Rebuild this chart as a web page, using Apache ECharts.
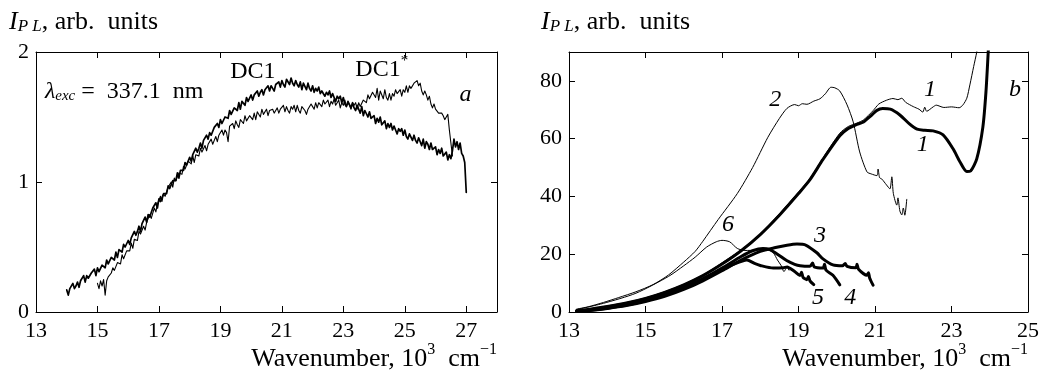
<!DOCTYPE html>
<html><head><meta charset="utf-8">
<script src="https://cdn.jsdelivr.net/npm/echarts@6/dist/echarts.min.js"></script>
<style>html,body{margin:0;padding:0;background:#fff}#c{width:1044px;height:374px}</style>
</head><body><div id="c"></div>
<script>
// ---------- Panel a data: [wavenumber (10^3 cm^-1), I_PL] ----------
const dc1 = [
[14.00,.17],[14.05,.13],[14.10,.18],[14.15,.17],[14.20,.22],[14.25,.18],[14.30,.20],[14.35,.23],[14.40,.19],[14.45,.24],
[14.50,.23],[14.55,.28],[14.60,.23],[14.65,.28],[14.70,.26],[14.75,.25],[14.80,.30],[14.85,.29],[14.90,.33],[14.95,.28],
[15.00,.34],[15.05,.31],[15.10,.30],[15.15,.36],[15.20,.36],[15.25,.34],[15.30,.40],[15.35,.37],[15.40,.37],[15.45,.42],
[15.50,.41],[15.55,.40],[15.60,.46],[15.65,.42],[15.70,.48],[15.75,.48],[15.80,.46],[15.85,.52],[15.90,.50],[15.95,.50],
[16.00,.55],[16.05,.52],[16.10,.57],[16.15,.57],[16.20,.62],[16.25,.59],[16.30,.62],[16.35,.66],[16.40,.62],[16.45,.68],
[16.50,.67],[16.55,.73],[16.60,.69],[16.65,.75],[16.70,.73],[16.75,.73],[16.80,.80],[16.85,.79],[16.90,.84],[16.95,.80],
[17.00,.87],[17.05,.85],[17.10,.84],[17.15,.91],[17.20,.92],[17.25,.91],[17.30,.97],[17.35,.95],[17.40,.96],[17.45,1.01],
[17.50,1.01],[17.55,1.01],[17.60,1.07],[17.65,1.03],[17.70,1.09],[17.75,1.10],[17.80,1.09],[17.85,1.15],[17.90,1.13],[17.95,1.13],
[18.00,1.19],[18.05,1.16],[18.10,1.21],[18.15,1.21],[18.20,1.26],[18.25,1.23],[18.30,1.26],[18.35,1.30],[18.40,1.26],[18.45,1.32],
[18.50,1.31],[18.55,1.36],[18.60,1.33],[18.65,1.38],[18.70,1.36],[18.75,1.36],[18.80,1.42],[18.85,1.41],[18.90,1.45],[18.95,1.42],
[19.00,1.48],[19.05,1.45],[19.10,1.44],[19.15,1.50],[19.20,1.50],[19.25,1.49],[19.30,1.55],[19.35,1.52],[19.40,1.52],[19.45,1.57],
[19.50,1.56],[19.55,1.55],[19.60,1.61],[19.65,1.56],[19.70,1.62],[19.75,1.62],[19.80,1.59],[19.85,1.65],[19.90,1.62],[19.95,1.62],
[20.00,1.67],[20.05,1.63],[20.10,1.67],[20.15,1.66],[20.20,1.70],[20.25,1.66],[20.30,1.69],[20.35,1.71],[20.40,1.67],[20.45,1.71],
[20.50,1.70],[20.55,1.74],[20.60,1.70],[20.65,1.74],[20.70,1.72],[20.75,1.70],[20.80,1.75],[20.85,1.74],[20.90,1.77],[20.95,1.73],
[21.00,1.78],[21.05,1.75],[21.10,1.73],[21.15,1.79],[21.20,1.78],[21.25,1.75],[21.30,1.80],[21.35,1.76],[21.40,1.74],[21.45,1.78],
[21.50,1.75],[21.55,1.73],[21.60,1.77],[21.65,1.71],[21.70,1.76],[21.75,1.75],[21.80,1.71],[21.85,1.76],[21.90,1.72],[21.95,1.70],
[22.00,1.74],[22.05,1.69],[22.10,1.72],[22.15,1.70],[22.20,1.73],[22.25,1.68],[22.30,1.70],[22.35,1.71],[22.40,1.66],[22.45,1.69],
[22.50,1.67],[22.55,1.70],[22.60,1.65],[22.65,1.68],[22.70,1.65],[22.75,1.62],[22.80,1.66],[22.85,1.64],[22.90,1.66],[22.95,1.61],
[23.00,1.65],[23.05,1.60],[23.10,1.58],[23.15,1.62],[23.20,1.61],[23.25,1.57],[23.30,1.61],[23.35,1.57],[23.40,1.55],[23.45,1.59],
[23.50,1.56],[23.55,1.53],[23.60,1.58],[23.65,1.51],[23.70,1.55],[23.75,1.54],[23.80,1.50],[23.85,1.54],[23.90,1.49],[23.95,1.48],
[24.00,1.51],[24.05,1.45],[24.10,1.49],[24.15,1.46],[24.20,1.50],[24.25,1.44],[24.30,1.45],[24.35,1.47],[24.40,1.41],[24.45,1.45],
[24.50,1.42],[24.55,1.45],[24.60,1.40],[24.65,1.43],[24.70,1.40],[24.75,1.37],[24.80,1.41],[24.85,1.39],[24.90,1.41],[24.95,1.36],
[25.00,1.40],[25.05,1.35],[25.10,1.33],[25.15,1.37],[25.20,1.36],[25.25,1.32],[25.30,1.36],[25.35,1.32],[25.40,1.30],[25.45,1.34],
[25.50,1.31],[25.55,1.28],[25.60,1.33],[25.65,1.26],[25.70,1.31],[25.75,1.29],[25.80,1.25],[25.85,1.30],[25.90,1.25],[25.95,1.24],
[26.00,1.27],[26.05,1.21],[26.10,1.25],[26.15,1.22],[26.20,1.26],[26.25,1.20],[26.30,1.21],[26.35,1.23],[26.40,1.17],[26.45,1.21],
[26.50,1.18],[26.55,1.24],[26.60,1.33],[26.65,1.27],[26.70,1.31],[26.75,1.25],[26.80,1.30],[26.85,1.22],[26.90,1.20],[26.95,1.15],[27.00,0.92]];
const dc1star = [
[15.00,.22],[15.05,.18],[15.10,.24],[15.15,.20],[15.20,.25],[15.25,.13],[15.30,.24],[15.35,.27],[15.40,.26],[15.45,.30],
[15.50,.34],[15.55,.32],[15.60,.31],[15.65,.38],[15.70,.38],[15.75,.37],[15.80,.44],[15.85,.41],[15.90,.42],[15.95,.47],
[16.00,.47],[16.05,.47],[16.10,.53],[16.15,.49],[16.20,.56],[16.25,.57],[16.30,.55],[16.35,.62],[16.40,.60],[16.45,.60],
[16.50,.66],[16.55,.63],[16.60,.69],[16.65,.69],[16.70,.75],[16.75,.72],[16.80,.76],[16.85,.80],[16.90,.77],[16.95,.83],
[17.00,.83],[17.05,.89],[17.10,.85],[17.15,.91],[17.20,.89],[17.25,.89],[17.30,.96],[17.35,.95],[17.40,1.00],[17.45,.96],
[17.50,1.03],[17.55,1.01],[17.60,1.00],[17.65,1.07],[17.70,1.07],[17.75,1.06],[17.80,1.12],[17.85,1.10],[17.90,1.10],[17.95,1.16],
[18.00,1.15],[18.05,1.14],[18.10,1.20],[18.15,1.15],[18.20,1.21],[18.25,1.22],[18.30,1.20],[18.35,1.26],[18.40,1.23],[18.45,1.23],
[18.50,1.28],[18.55,1.24],[18.60,1.29],[18.65,1.28],[18.70,1.33],[18.75,1.29],[18.80,1.32],[18.85,1.35],[18.90,1.31],[18.95,1.36],
[19.00,1.35],[19.05,1.40],[19.10,1.36],[19.15,1.40],[19.20,1.38],[19.25,1.31],[19.30,1.43],[19.35,1.42],[19.40,1.45],[19.45,1.41],
[19.50,1.47],[19.55,1.44],[19.60,1.42],[19.65,1.48],[19.70,1.47],[19.75,1.45],[19.80,1.51],[19.85,1.47],[19.90,1.47],[19.95,1.51],
[20.00,1.50],[20.05,1.48],[20.10,1.53],[20.15,1.48],[20.20,1.54],[20.25,1.53],[20.30,1.50],[20.35,1.56],[20.40,1.52],[20.45,1.51],
[20.50,1.56],[20.55,1.51],[20.60,1.55],[20.65,1.54],[20.70,1.56],[20.75,1.53],[20.80,1.55],[20.85,1.57],[20.90,1.53],[20.95,1.56],
[21.00,1.55],[21.05,1.59],[21.10,1.54],[21.15,1.58],[21.20,1.55],[21.25,1.53],[21.30,1.58],[21.35,1.56],[21.40,1.59],[21.45,1.54],
[21.50,1.59],[21.55,1.55],[21.60,1.53],[21.65,1.58],[21.70,1.57],[21.75,1.55],[21.80,1.52],[21.85,1.56],[21.90,1.55],[21.95,1.60],
[22.00,1.58],[22.05,1.56],[22.10,1.61],[22.15,1.57],[22.20,1.61],[22.25,1.61],[22.30,1.58],[22.35,1.63],[22.40,1.60],[22.45,1.59],
[22.50,1.63],[22.55,1.58],[22.60,1.62],[22.65,1.60],[22.70,1.64],[22.75,1.59],[22.80,1.61],[22.85,1.63],[22.90,1.57],[22.95,1.61],
[23.00,1.59],[23.05,1.63],[23.10,1.58],[23.15,1.61],[23.20,1.59],[23.25,1.56],[23.30,1.61],[23.35,1.59],[23.40,1.61],[23.45,1.56],
[23.50,1.61],[23.55,1.58],[23.60,1.57],[23.65,1.63],[23.70,1.63],[23.75,1.61],[23.80,1.67],[23.85,1.64],[23.90,1.64],[23.95,1.69],
[24.00,1.68],[24.05,1.65],[24.10,1.72],[24.15,1.63],[24.20,1.70],[24.25,1.69],[24.30,1.64],[24.35,1.71],[24.40,1.65],[24.45,1.63],
[24.50,1.68],[24.55,1.63],[24.60,1.68],[24.65,1.66],[24.70,1.71],[24.75,1.68],[24.80,1.68],[24.85,1.71],[24.90,1.66],[24.95,1.71],
[25.00,1.69],[25.05,1.74],[25.10,1.69],[25.15,1.74],[25.20,1.72],[25.25,1.71],[25.30,1.76],[25.35,1.75],[25.40,1.78],[25.45,1.74],
[25.50,1.76],[25.55,1.70],[25.60,1.67],[25.65,1.70],[25.70,1.67],[25.75,1.63],[25.80,1.66],[25.85,1.60],[25.90,1.57],[25.95,1.60],
[26.00,1.56],[26.05,1.55],[26.10,1.53],[26.15,1.52],[26.20,1.53],[26.25,1.51],[26.30,1.48],[26.35,1.50],[26.40,1.52],[26.45,1.40],[26.50,1.30],[26.55,1.20]];

// ---------- Panel b data ----------
const curve1Thin = [[13.2,0.6],[13.5,1.0],[14.0,2.1],[14.5,3.3],[15.0,4.9],[15.5,7.0],[16.0,9.6],[16.5,12.8],[17.0,17.0],[17.5,21.5],[18.0,27.0],[18.5,34.0],[19.0,41.5],[19.3,46.2],[19.64,53.3],[20.08,61.9],[20.3,64.2],[20.53,65.4],[20.7,66.5],[20.95,69.7],[21.1,72.0],[21.3,73.3],[21.47,73.9],[21.6,73.5],[21.7,74.0],[21.8,72.6],[22.0,71.1],[22.15,70.2],[22.25,69.2],[22.3,70.9],[22.35,69.5],[22.52,71.0],[22.6,71.6],[22.8,70.8],[23.0,71.0],[23.2,70.7],[23.3,71.7],[23.4,74.0],[23.48,78.6],[23.58,85.0],[23.66,90.0],[23.7,94.0]];
const curve1Thick = [[13.2,0.5],[13.5,0.9],[14.0,1.9],[14.5,3.1],[15.0,4.7],[15.5,6.8],[16.0,9.4],[16.5,12.6],[17.0,16.6],[17.5,21.2],[18.0,26.8],[18.5,33.5],[19.0,41.0],[19.3,45.8],[19.64,52.8],[20.08,61.0],[20.3,63.5],[20.5,64.8],[20.7,65.8],[20.9,68.0],[21.05,69.8],[21.2,70.4],[21.4,70.2],[21.65,68.2],[21.9,65.1],[22.1,63.3],[22.3,62.9],[22.52,62.7],[22.78,61.3],[23.04,56.5],[23.22,52.0],[23.4,48.6],[23.5,48.8],[23.66,53.0],[23.82,64.0],[23.9,76.0],[23.96,90.0],[23.98,95.0]];
const curve2 = [[13.2,1.0],[13.5,1.8],[13.9,3.3],[14.3,5.0],[14.75,7.0],[15.2,9.5],[15.6,12.8],[16.0,17.3],[16.3,21.0],[16.5,24.5],[16.9,32.0],[17.4,41.0],[17.8,50.0],[18.2,60.5],[18.5,67.0],[18.7,70.5],[18.9,71.8],[19.0,71.4],[19.1,72.1],[19.22,71.9],[19.4,73.0],[19.56,73.8],[19.7,75.5],[19.85,77.8],[19.95,77.6],[20.08,76.5],[20.27,71.7],[20.43,65.8],[20.6,55.4],[20.79,48.5],[20.9,47.8],[21.05,47.2],[21.08,49.5],[21.12,46.5],[21.18,46.0],[21.3,44.0],[21.39,42.6],[21.44,46.8],[21.48,41.0],[21.57,37.0],[21.6,39.5],[21.65,35.0],[21.7,33.6],[21.74,36.0],[21.78,33.5],[21.83,39.0]];
const curve3 = [[13.2,0.2],[13.6,0.6],[14.0,1.2],[14.5,2.2],[15.0,3.6],[15.5,5.4],[16.0,7.8],[16.5,10.8],[17.0,14.3],[17.5,18.0],[18.0,21.0],[18.4,22.3],[18.7,23.1],[18.96,23.5],[19.2,23.1],[19.48,20.5],[19.64,18.4],[19.9,16.3],[20.15,16.0],[20.22,16.8],[20.27,15.8],[20.5,15.3],[20.53,16.5],[20.57,14.8],[20.79,12.7],[20.83,13.6],[20.86,11.8],[20.95,9.3]];
const curve4 = [[13.2,0.2],[13.6,0.7],[14.0,1.3],[14.5,2.4],[15.0,3.9],[15.5,5.8],[16.0,8.3],[16.5,11.5],[17.0,15.2],[17.5,19.2],[17.8,21.2],[18.07,22.0],[18.25,21.6],[18.45,20.0],[18.69,17.8],[18.9,16.5],[19.04,16.0],[19.3,15.8],[19.37,17.0],[19.41,15.6],[19.64,15.2],[19.68,16.5],[19.72,14.5],[19.9,12.7],[20.08,9.4]];
const curve5 = [[13.2,0.3],[13.6,0.8],[14.0,1.5],[14.5,2.7],[15.0,4.2],[15.5,6.1],[16.0,8.6],[16.5,11.5],[17.0,14.6],[17.3,16.5],[17.65,18.0],[17.85,16.8],[18.0,16.1],[18.34,15.2],[18.6,15.3],[18.7,15.6],[18.9,14.0],[19.04,12.6],[19.08,13.8],[19.12,12.0],[19.22,11.2],[19.26,12.3],[19.3,10.8],[19.4,9.5]];
const curve6 = [[13.2,0.8],[13.9,3.0],[14.75,6.5],[15.6,12.3],[16.0,16.0],[16.3,19.0],[16.6,22.5],[16.85,24.3],[17.0,24.8],[17.2,24.3],[17.4,22.0],[17.6,21.3],[17.9,21.4],[18.2,21.6],[18.35,20.3],[18.45,18.0],[18.55,16.0],[18.62,14.0],[18.7,15.5],[18.75,14.5]];

// ---------- Axis ticks ----------
const xTicksA = {min: 13, max: 28, interval: 2};
const yTicksA = {min: 0, max: 2, interval: 1};
const xTicksB = {min: 13, max: 25, interval: 2};
const yTicksB = {min: 0, max: 90, interval: 20};

// ---------- Annotations [x, y, text] ----------
const notesA = [[13.29, 1.71, '{l|λ}{s|exc}{n| =  337.1  nm}'], [19.32, 1.86, '{n|DC1}'], [23.39, 1.88, '{n|DC1}{p|*}'], [26.78, 1.69, '{l|a}']];
const notesB = [[18.39, 73.4, '2'], [22.44, 76.9, '1'], [22.25, 57.8, '1'], [17.16, 30.1, '6'], [19.56, 26.3, '3'], [19.51, 4.8, '5'], [20.35, 4.8, '4'], [24.66, 76.9, 'b']];
const yTitle = '{i|I}{s|P L}{n|, arb.  units}';
const xTitle = '{n|Wavenumber, 10}{p|3}{n|  cm}{p|−1}';

const FONT = 'Liberation Serif';
const FS = 22;
function richSet(fs, lh) {
  return {
    n: {fontFamily: FONT, fontSize: fs, lineHeight: lh, verticalAlign: 'bottom', color: '#000', opacity: 1},
    l: {fontFamily: FONT, fontSize: fs, lineHeight: lh, verticalAlign: 'bottom', color: '#000', fontStyle: 'italic'},
    i: {fontFamily: FONT, fontSize: fs, lineHeight: lh, verticalAlign: 'bottom', color: '#000', fontStyle: 'italic'},
    s: {fontFamily: FONT, fontSize: Math.round(fs * 0.64), lineHeight: Math.round(fs * 0.55), verticalAlign: 'bottom', color: '#000', fontStyle: 'italic'},
    p: {fontFamily: FONT, fontSize: Math.round(fs * 0.62), lineHeight: Math.round(fs * 0.7), verticalAlign: 'top', color: '#000'}
  };
}
const richNote = richSet(24, 28);
const richTitle = richSet(26, 30);

function xAxes(g, t, hideMax) {
  const common = {type: 'value', gridIndex: g, min: t.min, max: t.max, interval: t.interval,
    axisLine: {show: true, onZero: false, lineStyle: {color: '#000', width: 1}},
    axisTick: {show: true, inside: true, length: 6, lineStyle: {color: '#000', width: 1}},
    splitLine: {show: false}};
  return [
    Object.assign({}, common, {position: 'bottom', axisLabel: {margin: 8, color: '#000', fontFamily: FONT, fontSize: FS,
      formatter: v => (hideMax && v === t.max) ? '' : String(v)}}),
    Object.assign({}, common, {position: 'top', axisLabel: {show: false}})
  ];
}
function yAxes(g, t, hideMax) {
  const common = {type: 'value', gridIndex: g, min: t.min, max: t.max, interval: t.interval,
    axisLine: {show: true, onZero: false, lineStyle: {color: '#000', width: 1}},
    axisTick: {show: true, inside: true, length: 6, lineStyle: {color: '#000', width: 1}},
    splitLine: {show: false}};
  return [
    Object.assign({}, common, {position: 'left', axisLabel: {margin: 7, color: '#000', fontFamily: FONT, fontSize: FS,
      formatter: v => (hideMax && v === t.max) ? '' : String(v)}}),
    Object.assign({}, common, {position: 'right', axisLabel: {show: false}})
  ];
}

function lineSeries(data, xi, yi, w, smooth) {
  return {type: 'line', xAxisIndex: xi, yAxisIndex: yi, data: data, showSymbol: false, symbol: 'none',
    smooth: smooth, clip: true, silent: true,
    lineStyle: {color: '#000', width: w, join: 'round', cap: 'round'}};
}
function noteSeries(notes, xi, yi, align, italic) {
  return {type: 'scatter', xAxisIndex: xi, yAxisIndex: yi, symbolSize: 0, silent: true,
    itemStyle: {opacity: 1, color: '#000'},
    data: notes.map(n => ({value: [n[0], n[1]], label: {show: true, formatter: n[2]}})),
    label: {show: true, position: 'inside', align: align, verticalAlign: 'middle', color: '#000', opacity: 1,
      textBorderWidth: 0, fontFamily: FONT, fontSize: 24, fontStyle: italic ? 'italic' : 'normal', rich: richNote}};
}

const chart = echarts.init(document.getElementById('c'), null, {renderer: 'canvas'});
chart.setOption({
  animation: false,
  backgroundColor: '#fff',
  grid: [
    {left: 36, top: 52, width: 461, height: 260, containLabel: false},
    {left: 569, top: 52, width: 459, height: 260, containLabel: false}
  ],
  xAxis: [].concat(xAxes(0, xTicksA, true), xAxes(1, xTicksB, false)),
  yAxis: [].concat(yAxes(0, yTicksA, false), yAxes(1, yTicksB, true)),
  series: [
    lineSeries(dc1, 0, 0, 1.7, false),
    lineSeries(dc1star, 0, 0, 1.1, false),
    lineSeries(curve2, 2, 2, 1, 0.25),
    lineSeries(curve6, 2, 2, 1, 0.25),
    lineSeries(curve1Thin, 2, 2, 1, 0.25),
    lineSeries(curve1Thick, 2, 2, 3, 0.25),
    lineSeries(curve3, 2, 2, 3, 0.25),
    lineSeries(curve4, 2, 2, 3, 0.25),
    lineSeries(curve5, 2, 2, 3, 0.25),
    noteSeries(notesA, 0, 0, 'left', false),
    noteSeries(notesB, 2, 2, 'center', true)
  ],
  graphic: [
    {type: 'text', left: 9, top: 9, style: {text: yTitle, rich: richTitle, fill: '#000'}},
    {type: 'text', left: 541, top: 9, style: {text: yTitle, rich: richTitle, fill: '#000'}},
    {type: 'text', right: 547, top: 342, style: {text: xTitle, rich: richTitle, fill: '#000'}},
    {type: 'text', right: 16, top: 342, style: {text: xTitle, rich: richTitle, fill: '#000'}}
  ]
});
</script></body></html>
